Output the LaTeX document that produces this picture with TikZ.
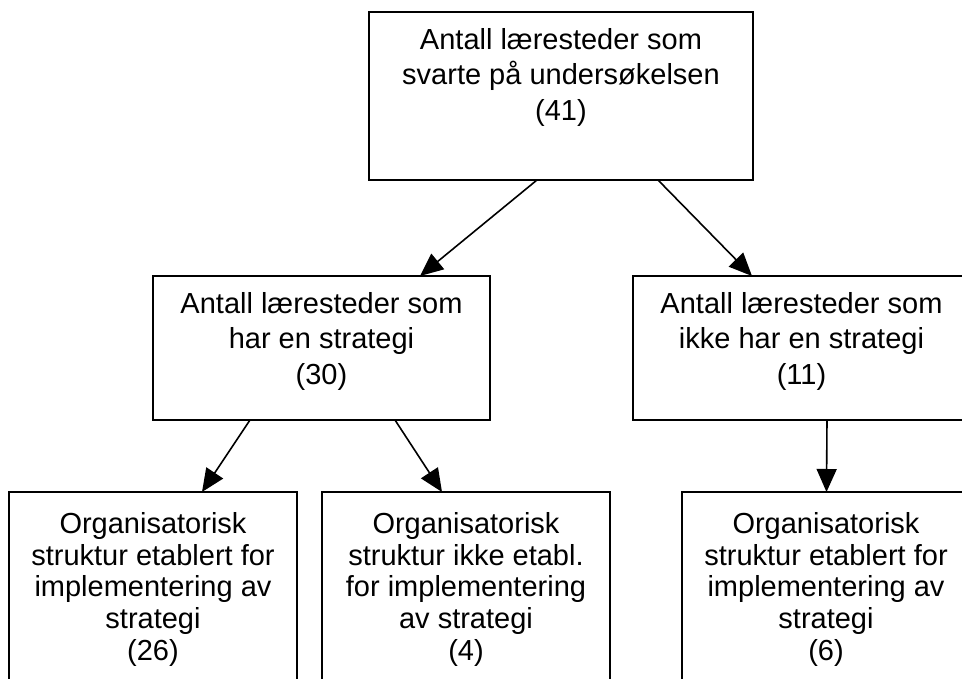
\documentclass[tikz,border=0pt]{standalone}
\usepackage{fontspec}
\setmainfont{Liberation Sans}
\usetikzlibrary{arrows.meta}
\tikzset{
  box/.style={draw=black, line width=1.9pt, inner sep=0pt, outer sep=0pt, fill=white},
  txt/.style={anchor=north, align=center, inner sep=0pt, font=\fontsize{29}{35.5}\selectfont},
  txtb/.style={anchor=north, align=center, inner sep=0pt, font=\fontsize{29}{31.8}\selectfont},
  arr/.style={draw=black, line width=1.6pt, -{Triangle[length=23pt,width=20pt]}}
}
\begin{document}
\begin{tikzpicture}[x=1pt,y=-1pt]
\useasboundingbox (0,0) rectangle (962,679);
\clip (0,0) rectangle (962,679);
\fill[white] (0,0) rectangle (962,679);
% boxes
\node[box, minimum width=384pt, minimum height=168pt] (top) at (561,96) {};
\node[box, minimum width=337pt, minimum height=144pt] (mid1) at (321.5,348) {};
\node[box, minimum width=337pt, minimum height=144pt] (mid2) at (801.5,348) {};
\node[box, minimum width=288pt, minimum height=218pt] (bot1) at (153,601) {};
\node[box, minimum width=288pt, minimum height=218pt] (bot2) at (466,601) {};
\node[box, minimum width=288pt, minimum height=218pt] (bot3) at (826,601) {};
% texts
\node[txt] (ttop) at ([yshift=-16pt]top.north) {Antall læresteder som\\svarte på undersøkelsen\\(41)};
\node[txt] (tmid1) at ([yshift=-16pt]mid1.north) {Antall læresteder som\\har en strategi\\(30)};
\node[txt] (tmid2) at ([yshift=-16pt]mid2.north) {Antall læresteder som\\ikke har en strategi\\(11)};
\node[txtb] (tbot1) at ([yshift=-20pt]bot1.north) {Organisatorisk\\struktur etablert for\\implementering av\\strategi\\(26)};
\node[txtb] (tbot2) at ([yshift=-20pt]bot2.north) {Organisatorisk\\struktur ikke etabl.\\for implementering\\av strategi\\(4)};
\node[txtb] (tbot3) at ([yshift=-20pt]bot3.north) {Organisatorisk\\struktur etablert for\\implementering av\\strategi\\(6)};
% connectors
\draw[arr] ([xshift=-24pt]top.south) -- ([xshift=98.5pt]mid1.north);
\draw[arr] ([xshift=97pt]top.south) -- ([xshift=-49.5pt]mid2.north);
\draw[arr] ([xshift=-71.5pt]mid1.south) -- ([xshift=49pt]bot1.north);
\draw[arr] ([xshift=73.5pt]mid1.south) -- ([xshift=-24pt]bot2.north);
\draw[arr] ([xshift=25.5pt]mid2.south) -- ([xshift=0.5pt]bot3.north);
\end{tikzpicture}
\end{document}
